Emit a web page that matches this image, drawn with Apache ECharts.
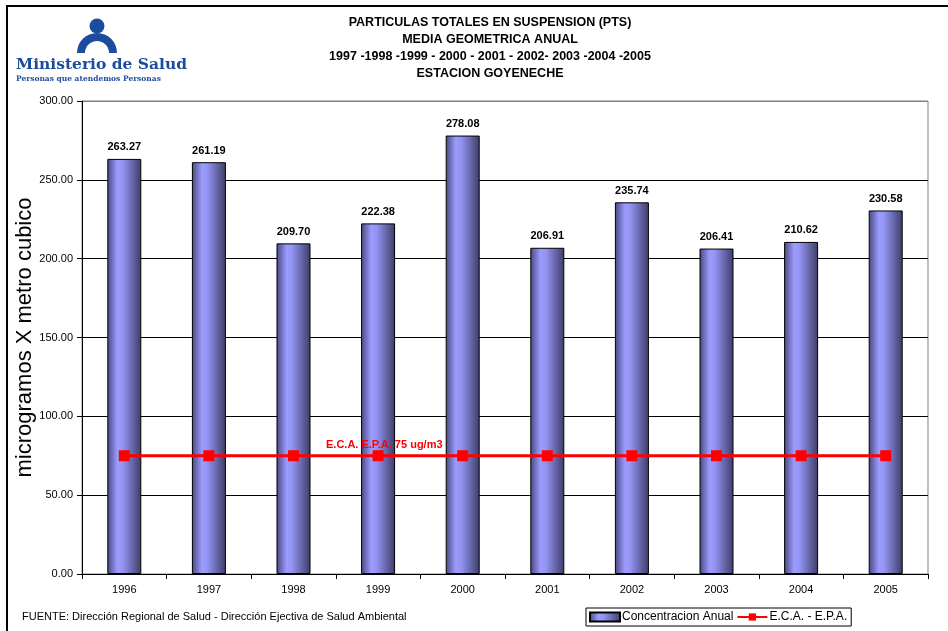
<!DOCTYPE html>
<html>
<head>
<meta charset="utf-8">
<script src="https://cdn.jsdelivr.net/npm/echarts@6/dist/echarts.min.js"></script>
<style>
  html, body { margin: 0; padding: 0; background: #fff; }
  #chart { width: 948px; height: 631px; }
</style>
</head>
<body>
<div id="chart"></div>
<script>
// DATA
const years = ['1996', '1997', '1998', '1999', '2000', '2001', '2002', '2003', '2004', '2005'];
const concentracion = [263.27, 261.19, 209.70, 222.38, 278.08, 206.91, 235.74, 206.41, 210.62, 230.58];
const ecaEpa = [75, 75, 75, 75, 75, 75, 75, 75, 75, 75];
const titleLines = [
  'PARTICULAS TOTALES EN SUSPENSION (PTS)',
  'MEDIA GEOMETRICA ANUAL',
  '1997 -1998 -1999 - 2000 - 2001 - 2002- 2003 -2004 -2005',
  'ESTACION GOYENECHE'
];

const FONT = '"Liberation Sans", Arial, sans-serif';
const logoBlue = '#1d4c9c';

let chart = echarts.init(document.getElementById('chart'));

// bar shading like the old excel cylinders
const barGradient = new echarts.graphic.LinearGradient(0, 0, 1, 0, [
  { offset: 0, color: '#474780' },
  { offset: 0.3, color: '#9c9cff' },
  { offset: 0.45, color: '#9494f4' },
  { offset: 1, color: '#3d3d66' }
]);

let option = {
  backgroundColor: '#fff',
  animation: false,
  title: {
    text: titleLines.join('\n'),
    left: 485,
    top: 9,
    textAlign: 'center',
    textStyle: {
      fontFamily: FONT,
      fontSize: 12.5,
      fontWeight: 'bold',
      color: '#000',
      lineHeight: 17
    }
  },
  grid: {
    left: 82,
    right: 20,
    top: 101,
    bottom: 57,
    outerBoundsMode: 'none',
    show: true,
    borderColor: '#808080',
    borderWidth: 1
  },
  legend: {
    left: 586,
    top: 608,
    orient: 'horizontal',
    itemGap: 3,
    itemWidth: 30,
    itemHeight: 9,
    padding: [3, 4, 3, 3],
    borderColor: '#000',
    borderWidth: 1,
    borderRadius: 0,
    textStyle: { fontFamily: FONT, fontSize: 12, color: '#000', padding: [0, 0, 0, -3] },
    data: [
      { name: 'Concentracion Anual', icon: 'rect' },
      { name: 'E.C.A. - E.P.A.' }
    ]
  },
  xAxis: {
    type: 'category',
    data: years,
    boundaryGap: true,
    axisLine: { lineStyle: { color: '#000', width: 1 } },
    axisTick: { show: true, length: 5, lineStyle: { color: '#000' } },
    axisLabel: { fontFamily: FONT, fontSize: 11, color: '#000', margin: 10 }
  },
  yAxis: {
    type: 'value',
    min: 0,
    max: 300,
    interval: 50,
    name: 'microgramos X metro cubico',
    nameLocation: 'middle',
    nameRotate: 90,
    nameGap: 46,
    nameMoveOverlap: false,
    nameTextStyle: {
      fontFamily: FONT,
      fontSize: 22,
      color: '#000'
    },
    axisLine: { show: true, lineStyle: { color: '#000' } },
    axisTick: { show: true, length: 5, lineStyle: { color: '#000' } },
    axisLabel: {
      fontFamily: FONT,
      fontSize: 11,
      color: '#000',
      margin: 9,
      formatter: v => v.toFixed(2)
    },
    splitLine: {
      show: true,
      lineStyle: { color: ['#000', '#000', '#000', '#000', '#000', '#000', '#808080'], width: 1 }
    }
  },
  series: [
    {
      name: 'Concentracion Anual',
      type: 'bar',
      data: concentracion,
      barWidth: 34,
      itemStyle: {
        color: barGradient,
        borderColor: '#000',
        borderWidth: 1
      },
      label: {
        show: true,
        position: 'top',
        distance: 6,
        fontFamily: FONT,
        fontSize: 11,
        fontWeight: 'bold',
        color: '#000',
        formatter: p => p.value.toFixed(2)
      },
      z: 2
    },
    {
      name: 'E.C.A. - E.P.A.',
      type: 'line',
      data: ecaEpa,
      symbol: 'rect',
      symbolSize: 11,
      lineStyle: { color: '#ff0000', width: 3 },
      itemStyle: { color: '#ff0000' },
      z: 5
    }
  ],
  graphic: [
    // outer frame
    {
      type: 'rect',
      shape: { x: 7, y: 6, width: 1000, height: 1000 },
      style: { fill: 'none', stroke: '#000', lineWidth: 2 },
      silent: true
    },
    // logo figure
    {
      type: 'circle',
      shape: { cx: 97, cy: 26, r: 7.5 },
      style: { fill: logoBlue }
    },
    {
      type: 'sector',
      shape: { cx: 97, cy: 53, r0: 12, r: 20, startAngle: Math.PI, endAngle: Math.PI * 2 },
      style: { fill: logoBlue }
    },
    {
      type: 'text',
      left: 16,
      top: 57,
      style: {
        text: 'Ministerio de Salud',
        font: 'bold 15.5px "DejaVu Serif", serif',
        fill: logoBlue
      }
    },
    {
      type: 'text',
      left: 16,
      top: 75,
      style: {
        text: 'Personas que atendemos Personas',
        font: 'bold 7.5px "DejaVu Serif", serif',
        fill: logoBlue
      }
    },
    // norm label, drawn over the bars
    {
      type: 'text',
      left: 326,
      top: 439,
      z: 100,
      style: {
        text: 'E.C.A. E.P.A. 75 ug/m3',
        font: 'bold 11px ' + FONT,
        fill: '#ff0000'
      }
    },
    // source
    {
      type: 'text',
      left: 22,
      top: 611,
      style: {
        text: 'FUENTE: Dirección Regional de Salud - Dirección Ejectiva de Salud Ambiental',
        font: '11px ' + FONT,
        fill: '#000'
      }
    }
  ]
};

chart.setOption(option);
</script>
</body>
</html>
